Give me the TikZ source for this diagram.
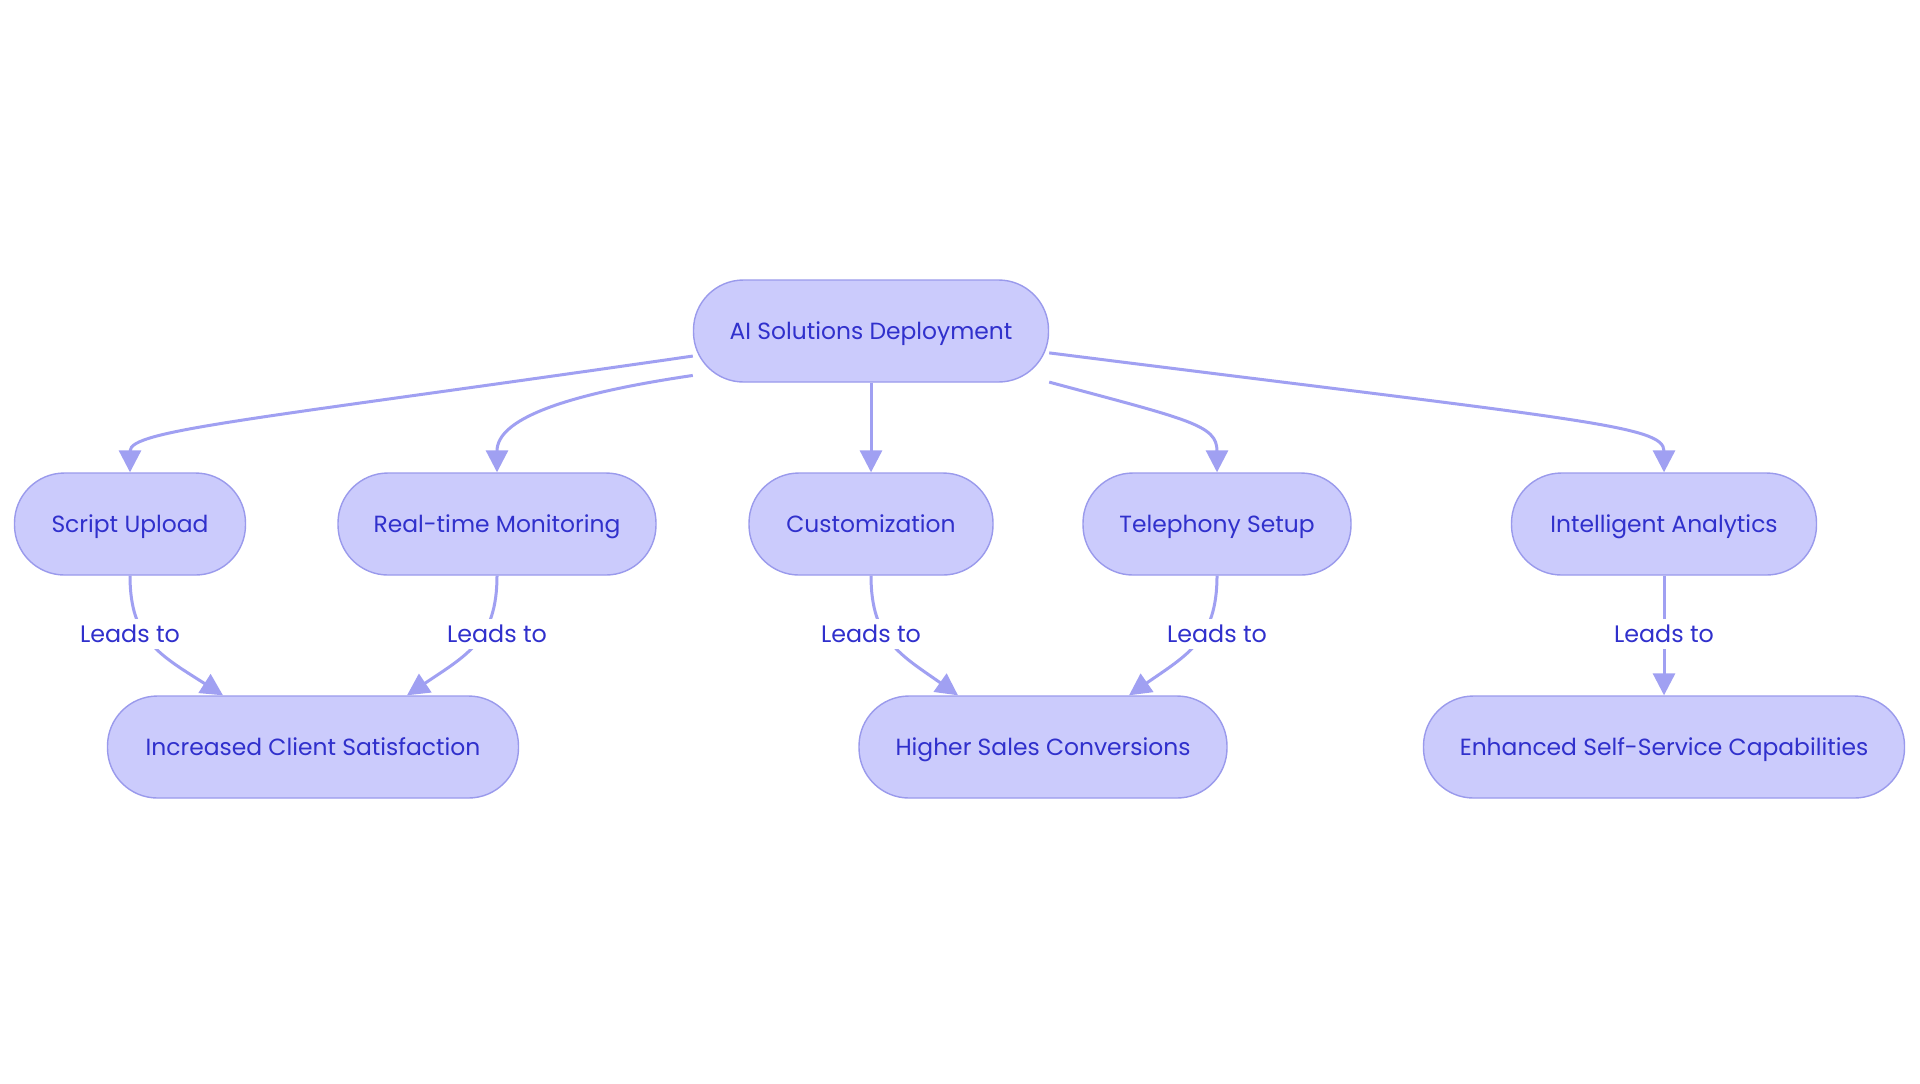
\documentclass[tikz,border=0pt]{standalone}
\usepackage{fontspec}
\setmainfont{Poppins}
\usetikzlibrary{arrows.meta}
\definecolor{nodefill}{HTML}{CBCBFC}
\definecolor{nodeborder}{HTML}{9A9AEC}
\definecolor{txt}{HTML}{3030CC}
\definecolor{edge}{HTML}{A0A0F2}
\tikzset{
  box/.style={draw=nodeborder, fill=nodefill, line width=0.7pt, rounded corners=25pt,
    minimum height=51pt, inner sep=0pt, text=txt, text height=1.9ex, text depth=0.3ex,
    font=\fontsize{11.7}{13}\selectfont},
  conn/.style={draw=edge, line width=1.5pt, -{Triangle[width=11pt,length=11pt]}},
  lbl/.style={fill=white, text=txt, inner sep=1.5pt, text height=1.9ex, text depth=0.3ex,
    font=\fontsize{11.9}{13}\selectfont}
}
\begin{document}
\begin{tikzpicture}[x=0.5pt,y=-0.5pt]
\useasboundingbox[fill=white] (0,0) rectangle (1920,1083);
\node[box, minimum width=177.5pt] (ai) at (871,331) {AI Solutions Deployment};
\node[box, minimum width=115.5pt] (su) at (130,524) {Script Upload};
\node[box, minimum width=159pt] (rt) at (497,524) {Real-time Monitoring};
\node[box, minimum width=122pt] (cu) at (871,524) {Customization};
\node[box, minimum width=134pt] (ts) at (1217,524) {Telephony Setup};
\node[box, minimum width=152.5pt] (ia) at (1664,524) {Intelligent Analytics};
\node[box, minimum width=205.5pt] (ic) at (313,747) {Increased Client Satisfaction};
\node[box, minimum width=184pt] (hs) at (1043,747) {Higher Sales Conversions};
\node[box, minimum width=240.5pt] (es) at (1664,747) {Enhanced Self-Service Capabilities};

\draw[conn] (ai.188) .. controls (250,420) and (130,430) .. (su.north);
\draw[conn] (ai.194) .. controls (560,395) and (497,420) .. (rt.north);
\draw[conn] (ai.south) -- (cu.north);
\draw[conn] (ai.-16) .. controls (1190,420) and (1217,425) .. (ts.north);
\draw[conn] (ai.-7.4) .. controls (1580,420) and (1664,425) .. (ia.north);

\draw[conn] (su.south) .. controls (130,640) and (160,655) .. ([xshift=-45pt]ic.north);
\draw[conn] (rt.south) .. controls (497,640) and (467,655) .. ([xshift=47pt]ic.north);
\draw[conn] (cu.south) .. controls (871,640) and (901,655) .. ([xshift=-42.5pt]hs.north);
\draw[conn] (ts.south) .. controls (1217,640) and (1187,655) .. ([xshift=43pt]hs.north);
\draw[conn] (ia.south) -- (es.north);

\node[lbl] (l1) at (130,634) {Leads to};
\node[lbl] (l2) at (497,634) {Leads to};
\node[lbl] (l3) at (871,634) {Leads to};
\node[lbl] (l4) at (1217,634) {Leads to};
\node[lbl] (l5) at (1664,634) {Leads to};
\end{tikzpicture}
\end{document}
